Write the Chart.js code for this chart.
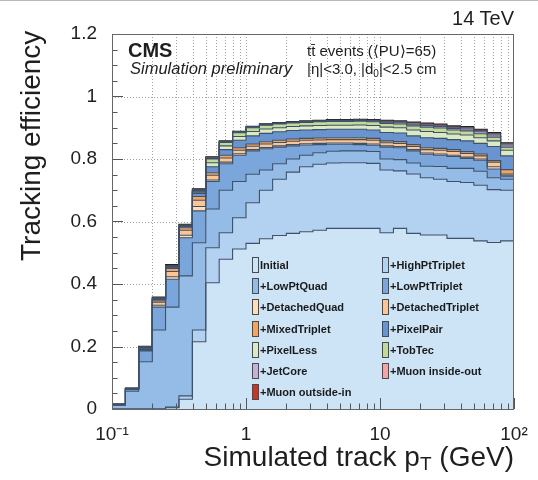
<!DOCTYPE html>
<html>
<head>
<meta charset="utf-8">
<script src="https://cdn.jsdelivr.net/npm/chart.js@4.4.0/dist/chart.umd.min.js"></script>
<style>
  html, body { margin: 0; padding: 0; background: #fff; }
  #wrap { position: relative; width: 538px; height: 480px; overflow: hidden;
          font-family: "Liberation Sans", Arial, sans-serif; color: #1e1e1e; border-top: 1px solid #b8b8b8; box-sizing: border-box; }
  #wrap canvas { position: absolute; left: 0; top: 0; }
  .txt { position: absolute; white-space: nowrap; line-height: 1; }
  #ytitle { font-size: 28px; transform-origin: left top; transform: rotate(-90deg); left: 17px; top: 272px; }
  #xtitle { font-size: 28px; right: 24px; top: 442px; }
  #xtitle sub { font-size: 19px; position: relative; top: 4px; vertical-align: baseline; }
  #energy { font-size: 20px; right: 24px; top: 7px; }
  #cms { font-size: 20px; font-weight: bold; left: 128px; top: 39px; }
  #sim { font-size: 16.5px; font-style: italic; left: 130px; top: 59px; }
  #evts { font-size: 15px; left: 307px; top: 42px; }
  #cuts { font-size: 15px; left: 307px; top: 60px; }
  #cuts sub { font-size: 10px; position: relative; top: 3px; vertical-align: baseline; }
  .leg { position: absolute; font: bold 11px "Liberation Sans", Arial, sans-serif; height: 16px;
         display: flex; align-items: center; white-space: nowrap; color: #1a1a1a; }
  .leg .box { display: inline-block; width: 5px; height: 14px; border: 1px solid #4a4a4a; margin-right: 1px; }
</style>
</head>
<body>
<div id="wrap">
  <canvas id="myChart" width="538" height="480"></canvas>
  <div class="txt" id="ytitle">Tracking efficiency</div>
  <div class="txt" id="xtitle">Simulated track p<sub>T</sub> (GeV)</div>
  <div class="txt" id="energy">14 TeV</div>
  <div class="txt" id="cms">CMS</div>
  <div class="txt" id="sim">Simulation preliminary</div>
  <div class="txt" id="evts">tt̄ events (⟨PU⟩=65)</div>
  <div class="txt" id="cuts">|η|&lt;3.0, |d<sub>0</sub>|&lt;2.5 cm</div>
  <div id="legend"></div>
</div>
<script>
// pT bin edges (GeV), 10 bins per decade
const binEdges = [0.1, 0.126, 0.158, 0.2, 0.251, 0.316, 0.398, 0.501, 0.631, 0.794,
                  1, 1.26, 1.58, 2, 2.51, 3.16, 3.98, 5.01, 6.31, 7.94,
                  10, 12.6, 15.8, 20, 25.1, 31.6, 39.8, 50.1, 63.1, 79.4, 100];

// cumulative efficiency after each iteration, one value per bin
const initial =        [0, 0, 0, 0, 0.004, 0.031, 0.215, 0.404, 0.479, 0.512, 0.530, 0.545, 0.555, 0.562, 0.567, 0.572, 0.578, 0.578, 0.578, 0.578, 0.564, 0.578, 0.562, 0.557, 0.557, 0.546, 0.546, 0.538, 0.533, 0.538];
const highPtTriplet =  [0, 0, 0, 0, 0.006, 0.042, 0.253, 0.516, 0.564, 0.612, 0.660, 0.700, 0.735, 0.758, 0.775, 0.783, 0.787, 0.788, 0.788, 0.786, 0.765, 0.762, 0.752, 0.740, 0.735, 0.728, 0.725, 0.716, 0.702, 0.700];
const lowPtQuad =      [0.012, 0.057, 0.151, 0.253, 0.326, 0.426, 0.532, 0.640, 0.700, 0.728, 0.751, 0.765, 0.785, 0.800, 0.812, 0.820, 0.825, 0.826, 0.826, 0.824, 0.800, 0.798, 0.787, 0.777, 0.776, 0.770, 0.770, 0.761, 0.740, 0.735];
const lowPtTriplet =   [0.014, 0.063, 0.186, 0.326, 0.415, 0.548, 0.634, 0.728, 0.785, 0.812, 0.826, 0.833, 0.838, 0.842, 0.845, 0.846, 0.847, 0.847, 0.846, 0.844, 0.838, 0.836, 0.826, 0.815, 0.812, 0.808, 0.802, 0.796, 0.768, 0.745];
const detachedQuad =   [0.014, 0.063, 0.188, 0.332, 0.423, 0.556, 0.648, 0.733, 0.790, 0.817, 0.830, 0.837, 0.842, 0.846, 0.849, 0.850, 0.851, 0.851, 0.850, 0.848, 0.842, 0.840, 0.830, 0.819, 0.816, 0.812, 0.806, 0.800, 0.775, 0.748];
const detachedTriplet =[0.014, 0.064, 0.190, 0.342, 0.440, 0.572, 0.668, 0.748, 0.803, 0.828, 0.841, 0.848, 0.853, 0.857, 0.860, 0.861, 0.862, 0.862, 0.862, 0.860, 0.852, 0.850, 0.840, 0.830, 0.828, 0.824, 0.818, 0.810, 0.790, 0.752];
const mixedTriplet =   [0.014, 0.064, 0.191, 0.348, 0.450, 0.580, 0.680, 0.756, 0.812, 0.836, 0.848, 0.855, 0.860, 0.864, 0.866, 0.867, 0.868, 0.868, 0.868, 0.866, 0.858, 0.856, 0.846, 0.836, 0.834, 0.830, 0.824, 0.816, 0.795, 0.766];
const pixelPair =      [0.015, 0.065, 0.195, 0.351, 0.454, 0.584, 0.690, 0.775, 0.830, 0.860, 0.874, 0.882, 0.887, 0.891, 0.893, 0.894, 0.895, 0.895, 0.895, 0.893, 0.885, 0.883, 0.874, 0.868, 0.866, 0.862, 0.858, 0.850, 0.840, 0.810];
const pixelLess =      [0.015, 0.065, 0.196, 0.352, 0.455, 0.585, 0.694, 0.788, 0.842, 0.872, 0.888, 0.896, 0.900, 0.904, 0.906, 0.907, 0.908, 0.908, 0.909, 0.907, 0.902, 0.900, 0.893, 0.888, 0.885, 0.880, 0.877, 0.868, 0.858, 0.828];
const tobTec =         [0.015, 0.065, 0.196, 0.353, 0.456, 0.586, 0.697, 0.800, 0.853, 0.884, 0.900, 0.908, 0.912, 0.915, 0.917, 0.919, 0.920, 0.920, 0.921, 0.919, 0.914, 0.912, 0.906, 0.902, 0.899, 0.893, 0.890, 0.881, 0.870, 0.838];
const jetCore =        [0.015, 0.066, 0.197, 0.354, 0.457, 0.587, 0.699, 0.802, 0.855, 0.886, 0.902, 0.910, 0.914, 0.917, 0.919, 0.921, 0.922, 0.922, 0.923, 0.922, 0.918, 0.916, 0.911, 0.907, 0.904, 0.898, 0.896, 0.887, 0.877, 0.845];
const muonInsideOut =  [0.015, 0.066, 0.199, 0.356, 0.459, 0.589, 0.702, 0.804, 0.856, 0.887, 0.903, 0.911, 0.915, 0.918, 0.920, 0.922, 0.924, 0.924, 0.925, 0.924, 0.921, 0.919, 0.915, 0.911, 0.908, 0.902, 0.900, 0.891, 0.881, 0.849];
const muonOutsideIn =  [0.016, 0.067, 0.201, 0.358, 0.462, 0.591, 0.705, 0.807, 0.858, 0.889, 0.905, 0.913, 0.917, 0.920, 0.922, 0.924, 0.926, 0.926, 0.927, 0.926, 0.924, 0.922, 0.918, 0.915, 0.912, 0.906, 0.904, 0.895, 0.885, 0.852];

const iterationNames = ['Initial', '+HighPtTriplet', '+LowPtQuad', '+LowPtTriplet', '+DetachedQuad', '+DetachedTriplet',
                        '+MixedTriplet', '+PixelPair', '+PixelLess', '+TobTec', '+JetCore', '+Muon inside-out', '+Muon outside-in'];
const iterationValues = [initial, highPtTriplet, lowPtQuad, lowPtTriplet, detachedQuad, detachedTriplet,
                         mixedTriplet, pixelPair, pixelLess, tobTec, jetCore, muonInsideOut, muonOutsideIn];
const iterationColors = ['#cde4f7', '#b3d1f0', '#95bce6', '#7aa6dc', '#fddcb8', '#fbc694', '#f2a462',
                         '#6994cf', '#dbe9c5', '#c1d99a', '#c7b0d6', '#f2a5a5', '#c0392b'];

const yTickLabels = ['0', '0.2', '0.4', '0.6', '0.8', '1', '1.2'];
const xTickLabels = { '0.1': '10⁻¹', '1': '1', '10': '10', '100': '10²' };

// histogram: value of bin i starts at its low edge, last edge closes the last bin
var toSteps = function(values) {
    return binEdges.map((x, i) => ({ x: x, y: values[Math.min(i, values.length - 1)] }));
};

var datasets = iterationValues.map((vals, k) => ({
    label: iterationNames[k],
    data: toSteps(vals),
    stepped: 'before',
    fill: k === 0 ? 'origin' : '-1',
    backgroundColor: iterationColors[k],
    borderColor: k === iterationValues.length - 1 ? '#222' : '#3e5168',
    borderWidth: 1.1,
    pointRadius: 0
}));

// ROOT-like frame, inward ticks and dotted grid
const rootStyle = {
    id: 'rootStyle',
    beforeDraw(chart) {
        const { ctx, chartArea: a, scales: { x, y } } = chart;
        ctx.save();
        ctx.strokeStyle = '#a0a0a0';
        ctx.lineWidth = 1;
        ctx.setLineDash([1, 2]);
        ctx.beginPath();
        x.ticks.forEach(t => {
            const px = Math.round(x.getPixelForValue(t.value)) + 0.5;
            if (px > a.left + 2 && px < a.right - 2) { ctx.moveTo(px, a.top); ctx.lineTo(px, a.bottom); }
        });
        y.ticks.forEach(t => {
            const py = Math.round(y.getPixelForValue(t.value)) + 0.5;
            if (py > a.top + 2 && py < a.bottom - 2) { ctx.moveTo(a.left, py); ctx.lineTo(a.right, py); }
        });
        ctx.stroke();
        ctx.restore();
    },
    afterDatasetsDraw(chart) {
        const { ctx, chartArea: a, scales: { x, y } } = chart;
        ctx.save();
        ctx.strokeStyle = '#555';
        ctx.lineWidth = 1;
        ctx.beginPath();
        for (let k = 0; k <= 24; k++) {
            const py = Math.round(y.getPixelForValue(k * 0.05)) + 0.5;
            const len = k % 4 === 0 ? 11 : 5.5;
            ctx.moveTo(a.left, py); ctx.lineTo(a.left + len, py);
        }
        x.ticks.forEach(t => {
            const px = Math.round(x.getPixelForValue(t.value)) + 0.5;
            const m = t.value / Math.pow(10, Math.floor(Math.log10(t.value) + 1e-9));
            const len = Math.abs(m - 1) < 1e-6 ? 11 : 5.5;
            ctx.moveTo(px, a.bottom); ctx.lineTo(px, a.bottom - len);
        });
        ctx.stroke();
        ctx.strokeStyle = '#666';
        ctx.strokeRect(Math.round(a.left) + 0.5, Math.round(a.top) + 0.5,
                       Math.round(a.right - a.left) - 1, Math.round(a.bottom - a.top));
        ctx.restore();
    }
};

var ctx = document.getElementById('myChart');
var myChart = new Chart(ctx, {
    type: 'line',
    data: { datasets: datasets },
    options: {
        responsive: false,
        animation: false,
        devicePixelRatio: 1,
        layout: { padding: { top: 33, right: 24, left: 0, bottom: 0 } },
        plugins: {
            legend: { display: false },
            tooltip: { enabled: false },
            filler: { drawTime: 'beforeDatasetsDraw' }
        },
        scales: {
            x: {
                type: 'logarithmic',
                min: 0.1,
                max: 100,
                grid: { display: false },
                border: { display: false },
                afterBuildTicks: function(scale) {
                    var ticks = [];
                    for (let e = -1; e <= 1; e++) {
                        for (let m = 1; m <= 9; m++) ticks.push({ value: Number((m * Math.pow(10, e)).toPrecision(3)) });
                    }
                    ticks.push({ value: 100 });
                    scale.ticks = ticks;
                },
                afterFit: function(scale) { scale.height = 72; },
                ticks: {
                    autoSkip: false,
                    maxRotation: 0,
                    padding: 6,
                    color: '#1e1e1e',
                    font: { family: 'Liberation Sans', size: 19 },
                    callback: function(value) { return xTickLabels[String(value)] || ''; }
                }
            },
            y: {
                min: 0,
                max: 1.2,
                grid: { display: false },
                border: { display: false },
                afterFit: function(scale) { scale.width = 112; },
                ticks: {
                    stepSize: 0.2,
                    padding: 7,
                    color: '#1e1e1e',
                    font: { family: 'Liberation Sans', size: 19 },
                    callback: function(value, i) { return yTickLabels[i]; }
                }
            }
        }
    },
    plugins: [rootStyle]
});

// legend in two columns inside the frame
var legendEl = document.getElementById('legend');
iterationNames.forEach((name, k) => {
    var item = document.createElement('div');
    item.className = 'leg';
    item.style.left = (k % 2 ? 382 : 252) + 'px';
    item.style.top = (256 + Math.floor(k / 2) * 21.2) + 'px';
    item.innerHTML = '<span class="box" style="background:' + iterationColors[k] + '"></span>' + name;
    legendEl.appendChild(item);
});

// y title is right-aligned to the top of the frame
var yt = document.getElementById('ytitle');
yt.style.top = (30 + yt.offsetWidth) + 'px';
</script>
</body>
</html>
